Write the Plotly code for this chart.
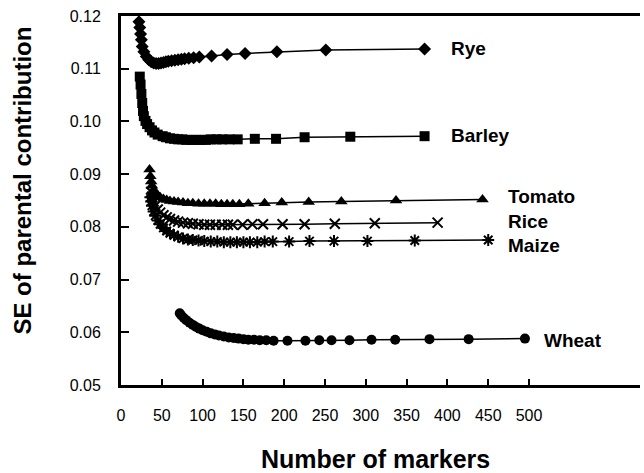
import plotly.graph_objects as go

# ---- data ----
rye_x = [22, 23, 24, 25, 26, 28, 31, 34, 37, 40, 43, 46, 49, 52, 55, 58, 62, 66, 70, 74, 78, 83, 89, 96, 111, 130, 152, 191, 251, 372]
rye_y = [0.1189, 0.1178, 0.1166, 0.1155, 0.1142, 0.1132, 0.1123, 0.1117, 0.1113, 0.1111, 0.1110, 0.1110, 0.1111, 0.1112, 0.1113, 0.1114, 0.1115, 0.1116, 0.1117, 0.1118, 0.1119, 0.1120, 0.1121, 0.1122, 0.1124, 0.1127, 0.1129, 0.1132, 0.11355, 0.11375]

barley_x = [23, 24, 25, 26, 27, 28, 30, 32, 35, 38, 41, 45, 51, 55, 60, 65, 70, 75, 80, 86, 92, 98, 104, 110, 117, 124, 133, 143, 164, 190, 225, 281, 372]
barley_y = [0.1085, 0.1070, 0.1052, 0.1035, 0.1020, 0.1010, 0.1001, 0.0995, 0.0989, 0.0983, 0.0979, 0.0975, 0.0972, 0.0970, 0.0968, 0.0967, 0.0966, 0.0966, 0.0965, 0.0965, 0.0965, 0.0965, 0.0965, 0.0966, 0.0966, 0.0966, 0.0966, 0.0966, 0.0967, 0.0967, 0.0970, 0.0971, 0.0972]

tomato_x = [35, 36, 37, 38, 40, 42, 45, 48, 52, 56, 60, 65, 70, 76, 82, 88, 95, 102, 109, 116, 123, 130, 137, 145, 156, 176, 197, 230, 270, 337, 443]
tomato_y = [0.0909, 0.0896, 0.0886, 0.0878, 0.0870, 0.0865, 0.0860, 0.0856, 0.0853, 0.0851, 0.0849, 0.0848, 0.0847, 0.0846, 0.0845, 0.0845, 0.0844, 0.0844, 0.0844, 0.0844, 0.0843, 0.0843, 0.0843, 0.0843, 0.0844, 0.0845, 0.0846, 0.0847, 0.0848, 0.0850, 0.0852]

rice_x = [37, 38, 40, 42, 45, 48, 52, 56, 60, 65, 70, 76, 82, 88, 95, 102, 109, 116, 124, 131, 137, 149, 161, 174, 198, 225, 262, 311, 388]
rice_y = [0.0866, 0.0857, 0.0848, 0.0840, 0.0833, 0.0827, 0.0822, 0.0818, 0.0815, 0.0812, 0.0810, 0.0808, 0.0807, 0.0806, 0.0805, 0.0804, 0.0804, 0.0804, 0.0804, 0.0804, 0.0804, 0.0804, 0.0805, 0.0805, 0.0805, 0.0805, 0.0806, 0.0807, 0.0808]

maize_x = [36, 37, 38, 40, 42, 45, 48, 52, 56, 60, 65, 70, 76, 82, 88, 95, 102, 110, 118, 126, 134, 142, 150, 158, 167, 176, 186, 206, 231, 261, 302, 360, 450]
maize_y = [0.0856, 0.0848, 0.0840, 0.0829, 0.0821, 0.0812, 0.0805, 0.0798, 0.0792, 0.0788, 0.0784, 0.0781, 0.0778, 0.0776, 0.0775, 0.0774, 0.0773, 0.0772, 0.0772, 0.0771, 0.0771, 0.0771, 0.0771, 0.0771, 0.0771, 0.0772, 0.0772, 0.0772, 0.0773, 0.0773, 0.0773, 0.0774, 0.0775]

wheat_x = [72, 74, 77, 80, 84, 88, 92, 96, 100, 105, 110, 115, 120, 126, 132, 138, 144, 150, 156, 163, 170, 178, 187, 204, 226, 243, 258, 280, 307, 336, 378, 426, 495]
wheat_y = [0.0636, 0.0632, 0.0627, 0.0623, 0.0618, 0.0614, 0.0610, 0.0607, 0.0604, 0.0601, 0.0598, 0.0596, 0.0594, 0.0592, 0.0590, 0.0589, 0.0588, 0.0587, 0.0586, 0.0586, 0.0585, 0.0585, 0.0584, 0.0584, 0.0584, 0.0585, 0.0585, 0.0585, 0.0586, 0.0586, 0.0587, 0.0587, 0.0588]

x_ticks = [0, 50, 100, 150, 200, 250, 300, 350, 400, 450, 500]
y_ticks = [0.05, 0.06, 0.07, 0.08, 0.09, 0.10, 0.11, 0.12]
y_tick_text = ["0.05", "0.06", "0.07", "0.08", "0.09", "0.10", "0.11", "0.12"]

labels = ["Rye", "Barley", "Tomato", "Rice", "Maize", "Wheat"]
label_x = [402, 402, 472, 472, 472, 516]
label_y = [0.1139, 0.0974, 0.0857, 0.0810, 0.0764, 0.0584]

FONT = "Liberation Sans, Arial, Helvetica, sans-serif"

series = [
    (rye_x, rye_y, "diamond", 10, None),
    (barley_x, barley_y, "square", 10, None),
    (tomato_x, tomato_y, "triangle-up", 11, None),
    (rice_x, rice_y, "x-thin-open", 10, 2),
    (maize_x, maize_y, "asterisk-open", 10, 2),
    (wheat_x, wheat_y, "circle", 10, None),
]

fig = go.Figure()
for xs, ys, sym, sz, lw in series:
    marker = dict(symbol=sym, size=sz, color="black")
    if lw:
        marker["line"] = dict(color="black", width=lw)
    else:
        marker["line"] = dict(width=0)
    fig.add_trace(go.Scatter(x=xs, y=ys, mode="lines+markers",
                             line=dict(color="black", width=1.5),
                             marker=marker, showlegend=False))

for t, lx, ly in zip(labels, label_x, label_y):
    fig.add_annotation(x=lx, y=ly, text="<b>%s</b>" % t, showarrow=False,
                       xanchor="left", yanchor="middle",
                       font=dict(family=FONT, size=19, color="black"))

fig.add_annotation(xref="paper", yref="paper", x=0.49, y=-0.2,
                   text="<b>Number of markers</b>", showarrow=False,
                   xanchor="center", yanchor="middle",
                   font=dict(family=FONT, size=25, color="black"))
fig.add_annotation(xref="paper", yref="paper", x=-0.19, y=0.555,
                   text="<b>SE of parental contribution</b>", showarrow=False,
                   textangle=-90, xanchor="center", yanchor="middle",
                   font=dict(family=FONT, size=24, color="black"))

fig.update_layout(
    width=644, height=473,
    margin=dict(l=121, r=4, t=16, b=88),
    paper_bgcolor="white", plot_bgcolor="white",
    font=dict(family=FONT, color="black"),
    xaxis=dict(range=[0, 636], tickvals=x_ticks, ticks="inside", ticklen=6,
               tickwidth=2, tickcolor="black", showline=True, linewidth=3,
               linecolor="black", mirror=True, showgrid=False, zeroline=False,
               tickfont=dict(family=FONT, size=16, color="black"),
               ticklabelstandoff=14),
    yaxis=dict(range=[0.05, 0.12], tickvals=y_ticks, ticktext=y_tick_text,
               ticks="inside", ticklen=8, tickwidth=2, tickcolor="black",
               showline=True, linewidth=3, linecolor="black", showgrid=False,
               zeroline=False, tickfont=dict(family=FONT, size=16, color="black"),
               ticklabelstandoff=14),
)

fig.write_html("out.html", config={"displayModeBar": False},
               post_script="document.body.style.margin='0';document.body.style.overflow='hidden';")
